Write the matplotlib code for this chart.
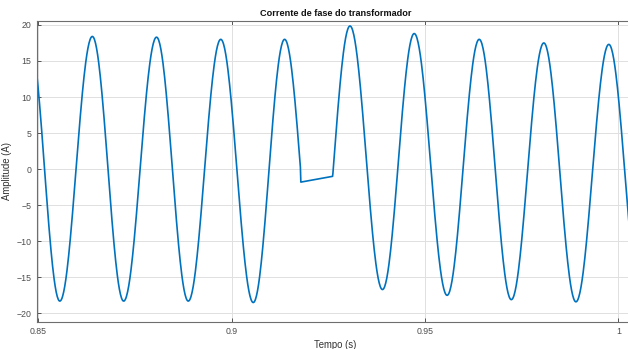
import numpy as np
import matplotlib.pyplot as plt

plt.rcParams['font.family'] = ['Liberation Sans', 'DejaVu Sans']

# extremes of the phase current (before the fault gap)
peak_times_a = [0.8477, 0.8556, 0.8640, 0.8721, 0.8806, 0.8888, 0.8972, 0.9056, 0.9137, 0.9220]
peak_vals_a = [18.4, -18.3, 18.4, -18.3, 18.3, -18.3, 18.0, -18.5, 18.0, -18.4]

# the flat stretch where the current drops out
gap_times = [0.9179, 0.9261]
gap_vals = [-1.8, -1.0]

# extremes after the gap
peak_times_b = [0.9222, 0.9306, 0.9390, 0.9472, 0.9557, 0.9640, 0.9723, 0.9807, 0.9890, 0.9975, 1.0058]
peak_vals_b = [-18.0, 19.85, -16.7, 18.8, -17.5, 18.0, -18.1, 17.5, -18.4, 17.3, -18.4]

x_ticks = [0.85, 0.9, 0.95, 1.0]
x_labels = ["0.85", "0.9", "0.95", "1"]
y_ticks = [-20, -15, -10, -5, 0, 5, 10, 15, 20]


def half_waves(times, vals, t_from, t_to):
    # sinusoidal half-cycles joining consecutive extremes
    tt, yy = [], []
    for i in range(len(times) - 1):
        t0, t1 = times[i], times[i + 1]
        v0, v1 = vals[i], vals[i + 1]
        t = np.linspace(t0, t1, 60)
        y = (v0 + v1) / 2 + (v0 - v1) / 2 * np.cos(np.pi * (t - t0) / (t1 - t0))
        keep = (t >= t_from) & (t <= t_to)
        tt.extend(t[keep])
        yy.extend(y[keep])
    return tt, yy


ta, ya = half_waves(peak_times_a, peak_vals_a, 0.0, gap_times[0])
tb, yb = half_waves(peak_times_b, peak_vals_b, gap_times[1], 2.0)
t_all = ta + gap_times + tb
y_all = ya + gap_vals + yb

fig = plt.figure(figsize=(6.28, 3.49), dpi=100)
ax = fig.add_axes([0.0589, 0.0782, 0.9506, 0.8628])
ax.plot(t_all, y_all, color="#0072BD", linewidth=1.2)

ax.set_xlim(0.8497, 1.004)
ax.set_ylim(-21.16, 20.6)
ax.set_xticks(x_ticks)
ax.set_xticklabels(x_labels)
ax.set_yticks(y_ticks)
ax.grid(True, color="#e0e0e0", linewidth=0.7)
ax.set_axisbelow(True)
ax.tick_params(direction="in", length=3, width=0.7, colors="#555555",
               labelcolor="#4d4d4d", labelsize=6.3, top=True, right=True, pad=4)
for s in ax.spines.values():
    s.set_color("#6e6e6e")
    s.set_linewidth(0.8)

ax.set_title("Corrente de fase do transformador", fontsize=6.6, fontweight="bold",
             color="#111111", pad=3.5)
ax.set_xlabel("Tempo (s)", fontsize=6.9, color="#333333", labelpad=3)
ax.set_ylabel("Amplitude (A)", fontsize=6.9, color="#333333", labelpad=3)

fig.savefig("out.png", dpi=100)
